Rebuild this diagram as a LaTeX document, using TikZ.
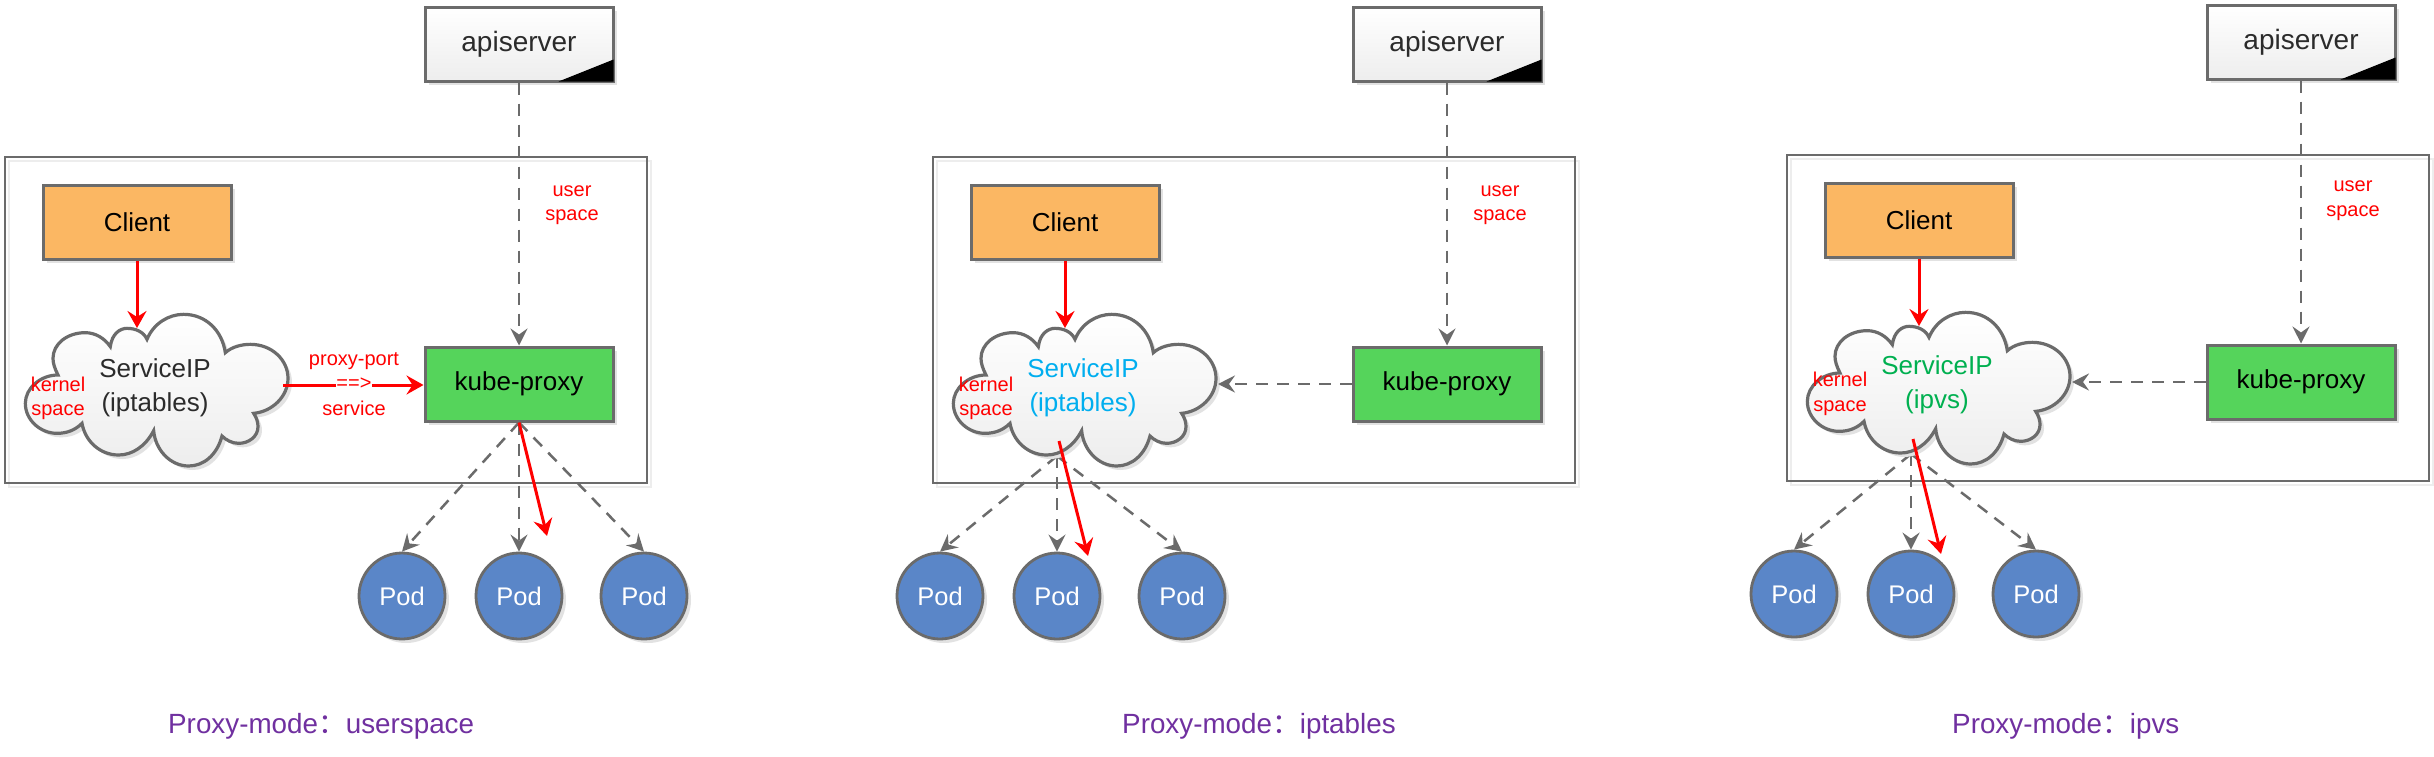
\documentclass[tikz,border=0pt]{standalone}
\usepackage{fontspec}
\setmainfont{Liberation Sans}
\newfontfamily\cjkfont{Noto Sans CJK SC}
\usetikzlibrary{arrows.meta,calc,shadows}
\definecolor{edgegrey}{HTML}{6B6B6B}
\definecolor{clientfill}{HTML}{FBB763}
\definecolor{kubefill}{HTML}{55D45B}
\definecolor{podfill}{HTML}{5A86C8}
\definecolor{softblack}{HTML}{2B2B2B}
\definecolor{ipblue}{HTML}{00AEEF}
\definecolor{ipgreen}{HTML}{00B050}
\definecolor{modepurple}{HTML}{7030A0}
\definecolor{shadowgrey}{HTML}{E2E2E2}
\tikzset{
  softshadow/.style={drop shadow={shadow xshift=4pt,shadow yshift=-4pt,fill=shadowgrey,opacity=1}},
  hostbox/.style={draw=edgegrey,line width=2.8pt,fill=none},
  hostshadow/.style={draw=black!7,line width=2.8pt},
  boxbase/.style={rectangle,draw=edgegrey,line width=3pt,minimum width=188pt,minimum height=74pt,inner sep=0pt,softshadow},
  apibox/.style={boxbase,top color=white,bottom color=black!7,text=softblack,font=\fontsize{28}{32}\selectfont},
  clientbox/.style={boxbase,fill=clientfill,text=black,font=\fontsize{26}{32}\selectfont},
  kubebox/.style={boxbase,fill=kubefill,text=black,font=\fontsize{26}{32}\selectfont},
  podnode/.style={circle,draw=edgegrey,line width=2.8pt,fill=podfill,minimum size=86pt,inner sep=0pt,text=white,font=\fontsize{25.5}{30}\selectfont,softshadow},
  svctext/.style={align=center,inner sep=0pt,font=\fontsize{26}{34}\selectfont},
  redtext/.style={align=center,inner sep=0pt,text=red,font=\fontsize{20}{24.5}\selectfont},
  modetext/.style={anchor=base west,inner sep=0pt,text=modepurple,font=\fontsize{27.8}{32}\selectfont},
  dasharrow/.style={draw=edgegrey,line width=2.5pt,dash pattern=on 12pt off 9pt,-{Stealth[length=17pt,width=17pt,inset=6pt,fill=edgegrey]}},
  redarrow/.style={draw=red,line width=3pt,-{Stealth[length=17pt,width=19pt,inset=6pt,fill=red]}},
  cloudline/.style={draw=edgegrey,line width=3.2pt,top color=white,bottom color=black!7},
  cloudshadow/.style={fill=shadowgrey},
  cornertip/.style={fill=black}
}
\def\cloudpts{(415,200) .. controls (420,160) and (445,145) .. (465,145) .. controls (490,145) and (515,155) .. (525,178) .. controls (545,130) and (590,103) .. (635,103) .. controls (700,103) and (750,150) .. (760,218) .. controls (780,200) and (810,193) .. (835,193) .. controls (900,193) and (948,240) .. (948,295) .. controls (948,350) and (900,395) .. (845,400) .. controls (855,415) and (858,428) .. (858,440) .. controls (858,470) and (830,490) .. (800,490) .. controls (780,490) and (762,480) .. (750,468) .. controls (735,525) and (695,558) .. (650,558) .. controls (595,558) and (550,510) .. (545,452) .. controls (520,500) and (480,525) .. (440,525) .. controls (385,525) and (340,485) .. (330,430) .. controls (310,450) and (285,460) .. (255,460) .. controls (205,460) and (160,420) .. (160,370) .. controls (160,325) and (205,285) .. (258,285) .. controls (248,265) and (243,250) .. (243,235) .. controls (243,192) and (285,158) .. (340,158) .. controls (370,158) and (398,175) .. (415,200) -- cycle}
% cloud outline, placed by the offset of the panel
\newcommand{\cloudat}[2]{%
  \begin{scope}[shift={(#1+904,#2+284)},x=0.33333pt,y=-0.33333pt]
    \path[cloudshadow] \cloudpts;
  \end{scope}
  \begin{scope}[shift={(#1+900,#2+280)},x=0.33333pt,y=-0.33333pt]
    \path[cloudline] \cloudpts;
  \end{scope}}
\newcommand{\cornerof}[1]{%
  \fill[cornertip] ($(#1.south east)+(-56,-1)$) -- ($(#1.south east)+(-1,-1)$) -- ($(#1.south east)+(-1,-23)$) -- cycle;}
\begin{document}
\begin{tikzpicture}[x=1pt,y=-1pt]
\useasboundingbox (0,0) rectangle (2434,756);
\fill[white] (0,0) rectangle (2434,756);

% ---------- outer boxes ----------
\draw[hostshadow] (9,161) rectangle (651,487);
\draw[hostbox] (5,157) rectangle (647,483);
\draw[hostshadow] (937,161) rectangle (1579,487);
\draw[hostbox] (933,157) rectangle (1575,483);
\draw[hostshadow] (1791,159) rectangle (2433,485);
\draw[hostbox] (1787,155) rectangle (2429,481);

% ---------- panel 1 ----------
\node[apibox] (api1) at (519,44) {apiserver};
\cornerof{api1}
\node[clientbox] (client1) at (137,222) {Client};
\node[kubebox] (kube1) at (519,384) {kube-proxy};
\cloudat{-928}{0}
\node[svctext,text=softblack] (svc1) at (155,388) {ServiceIP\\(iptables)};
\node[redtext] (kern1) at (58,398.5) {kernel\\space};
\node[redtext] (user1) at (572,205) {user\\space};
\node[podnode] (pod1a) at (402,596) {Pod};
\node[podnode] (pod1b) at (519,596) {Pod};
\node[podnode] (pod1c) at (644,596) {Pod};
\coordinate (cin1) at (137,328);
\coordinate (cout1) at (283,385);
\coordinate (rend1) at (547,536);
\draw[dasharrow] (api1.south) -- (kube1.north);
\draw[dasharrow] (kube1.south) -- (pod1a.north);
\draw[dasharrow] (kube1.south) -- (pod1b.north);
\draw[dasharrow] (kube1.south) -- (pod1c.north);
\draw[redarrow] (client1.south) -- (cin1);
\draw[redarrow] (cout1) -- (kube1.west |- cout1);
\draw[redarrow] (kube1.south) -- (rend1);
\node[redtext,fill=white] (arrowlbl1) at (354,384) {==>};
\node[redtext] (port1) at (354,361) {proxy-port};
\node[redtext] (serv1) at (354,408) {service};

% ---------- panel 2 ----------
\node[podnode] (pod2a) at (940,596) {Pod};
\node[podnode] (pod2b) at (1057,596) {Pod};
\node[podnode] (pod2c) at (1182,596) {Pod};
\coordinate (cbot2) at (1057,456);
\draw[dasharrow] (cbot2) -- (pod2a.north);
\draw[dasharrow] (cbot2) -- (pod2b.north);
\draw[dasharrow] (cbot2) -- (pod2c.north);
\node[apibox] (api2) at (1447,44) {apiserver};
\cornerof{api2}
\node[clientbox] (client2) at (1065,222) {Client};
\node[kubebox] (kube2) at (1447,384) {kube-proxy};
\cloudat{0}{0}
\node[svctext,text=ipblue] (svc2) at (1083,388) {ServiceIP\\(iptables)};
\node[redtext] (kern2) at (986,398.5) {kernel\\space};
\node[redtext] (user2) at (1500,205) {user\\space};
\coordinate (cin2) at (1065,328);
\coordinate (cin2b) at (1218,384);
\coordinate (rbeg2) at (1059,441);
\coordinate (rend2) at (1088,556);
\draw[dasharrow] (api2.south) -- (kube2.north);
\draw[dasharrow] (kube2.west) -- (cin2b);
\draw[redarrow] (client2.south) -- (cin2);
\draw[redarrow] (rbeg2) -- (rend2);

% ---------- panel 3 ----------
\node[podnode] (pod3a) at (1794,594) {Pod};
\node[podnode] (pod3b) at (1911,594) {Pod};
\node[podnode] (pod3c) at (2036,594) {Pod};
\coordinate (cbot3) at (1911,454);
\draw[dasharrow] (cbot3) -- (pod3a.north);
\draw[dasharrow] (cbot3) -- (pod3b.north);
\draw[dasharrow] (cbot3) -- (pod3c.north);
\node[apibox] (api3) at (2301,42) {apiserver};
\cornerof{api3}
\node[clientbox] (client3) at (1919,220) {Client};
\node[kubebox] (kube3) at (2301,382) {kube-proxy};
\cloudat{854}{-2}
\node[svctext,text=ipgreen] (svc3) at (1937,385) {ServiceIP\\(ipvs)};
\node[redtext] (kern3) at (1840,394) {kernel\\space};
\node[redtext] (user3) at (2353,200.5) {user\\space};
\coordinate (cin3) at (1919,326);
\coordinate (cin3b) at (2072,382);
\coordinate (rbeg3) at (1913,439);
\coordinate (rend3) at (1941,554);
\draw[dasharrow] (api3.south) -- (kube3.north);
\draw[dasharrow] (kube3.west) -- (cin3b);
\draw[redarrow] (client3.south) -- (cin3);
\draw[redarrow] (rbeg3) -- (rend3);

% ---------- captions ----------
\node[modetext] (mode1) at (168,733) {Proxy-mode{\cjkfont ：}userspace};
\node[modetext] (mode2) at (1122,733) {Proxy-mode{\cjkfont ：}iptables};
\node[modetext] (mode3) at (1952,733) {Proxy-mode{\cjkfont ：}ipvs};
\end{tikzpicture}
\end{document}
